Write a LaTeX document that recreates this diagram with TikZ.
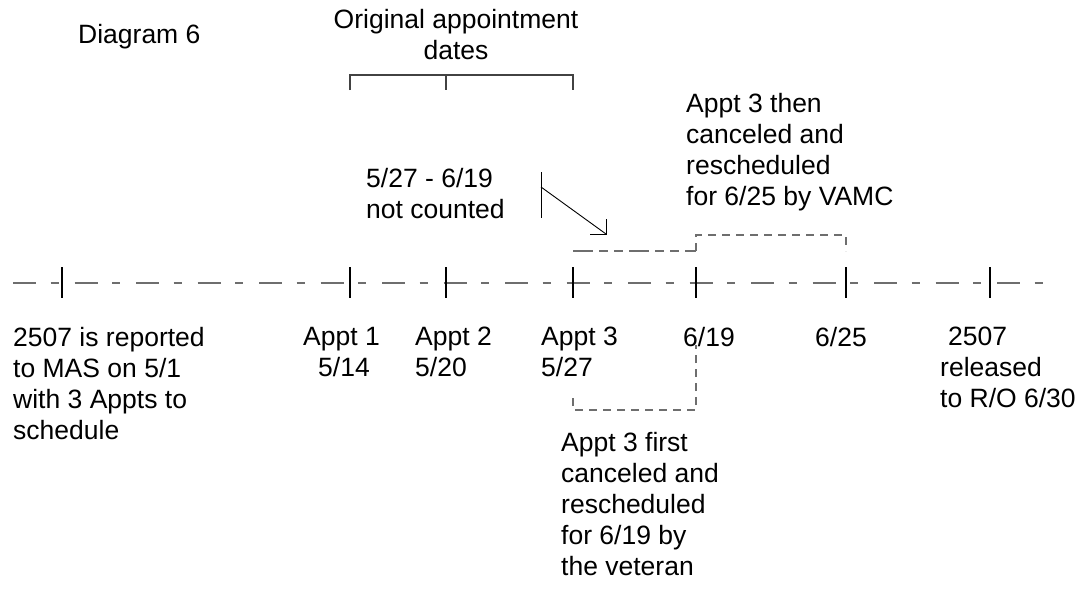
\documentclass[tikz,border=0pt]{standalone}
\usepackage{fontspec}
\setmainfont{Liberation Sans}
\usepackage{xcolor}
\usepackage{tikz}

\definecolor{linegray}{HTML}{6E6E6E}
\newcommand{\lblfont}{\fontsize{26.5}{31}\selectfont}

\begin{document}
\begin{tikzpicture}[
  x=1pt, y=-1pt,
  lbl/.style={font=\lblfont, align=left, anchor=north west, inner sep=0pt},
  axis/.style={draw=linegray, line width=2pt, dash pattern=on 23pt off 14.5pt on 8pt off 16pt},
  tick/.style={line width=1.4pt},
  bracket/.style={draw=linegray!60!black, line width=1.5pt},
  gapline/.style={draw=linegray, line width=1.4pt, dash pattern=on 8pt off 6pt},
  pointer/.style={line width=0.9pt}
]
\useasboundingbox (0,0) rectangle (1081,594);

% timeline
\coordinate (start) at (13,283);
\coordinate (end) at (1045,283);
\draw[axis] (start) -- (end);

\foreach \name/\x in {rep/62, a1/350, a2/446, a3/573, d19/696, d25/846, rel/990}{
  \coordinate (\name) at (\x,283);
  \draw[tick] ([yshift=16pt]\name) -- ([yshift=-15pt]\name);
}

% original dates bracket
\coordinate (b1) at (350,75);
\coordinate (b2) at (446,75);
\coordinate (b3) at (573,75);
\draw[bracket] ([yshift=-15pt]b1) -- (b1) -- (b3) -- ([yshift=-15pt]b3);
\draw[bracket] (b2) -- ([yshift=-15pt]b2);

% rescheduled spans
\coordinate (g1) at (573,251);
\coordinate (g2) at (696,251);
\coordinate (g3) at (696,235);
\coordinate (g4) at (846,235);
\coordinate (g5) at (846,251);
\draw[gapline, dash pattern=on 20pt off 6pt on 9pt off 6pt on 9pt off 6pt] (g1) -- (g2);
\draw[gapline] (g2) -- (g3) -- (g4) -- (g5);

\coordinate (h1) at (573,398);
\coordinate (h2) at (573,410);
\coordinate (h3) at (696,410);
\coordinate (h4) at (696,345);
\draw[gapline] (h1) -- (h2) -- (h3) -- (h4);

% not counted pointer
\coordinate (p1) at (541,172);
\coordinate (p2) at (541,218);
\coordinate (p3) at (541,187);
\coordinate (p4) at (606,234);
\draw[pointer] (p1) -- (p2);
\draw[pointer] (p3) -- (p4);
\draw[pointer] ([xshift=-16pt]p4) -- (p4) -- ([yshift=15pt]p4);

% labels
\node[lbl] (title) at (78,24) {Diagram 6};
\node[lbl, anchor=north, align=center] (orig) at (456,9) {Original appointment\\dates};
\node[lbl] (gap) at (366,168) {5/27 - 6/19\\not counted};
\node[lbl] (then) at (686,93) {Appt 3 then\\canceled and\\rescheduled\\for 6/25 by VAMC};

\node[lbl] (replbl) at (13,327) {2507 is reported\\to MAS on 5/1\\with 3 Appts to\\schedule};
\node[lbl] (a1lbl) at (303,327) {Appt 1\\\hspace{15pt}5/14};
\node[lbl] (a2lbl) at (415,327) {Appt 2\\5/20};
\node[lbl] (a3lbl) at (541,327) {Appt 3\\5/27};
\node[lbl] (d19lbl) at (683,327) {6/19};
\node[lbl] (d25lbl) at (815,327) {6/25};
\node[lbl] (rellbl) at (940,327) {\hspace{8pt}2507\\released\\to R/O 6/30};
\node[lbl] (first) at (561,432) {Appt 3 first\\canceled and\\rescheduled\\for 6/19 by\\the veteran};
\end{tikzpicture}
\end{document}
